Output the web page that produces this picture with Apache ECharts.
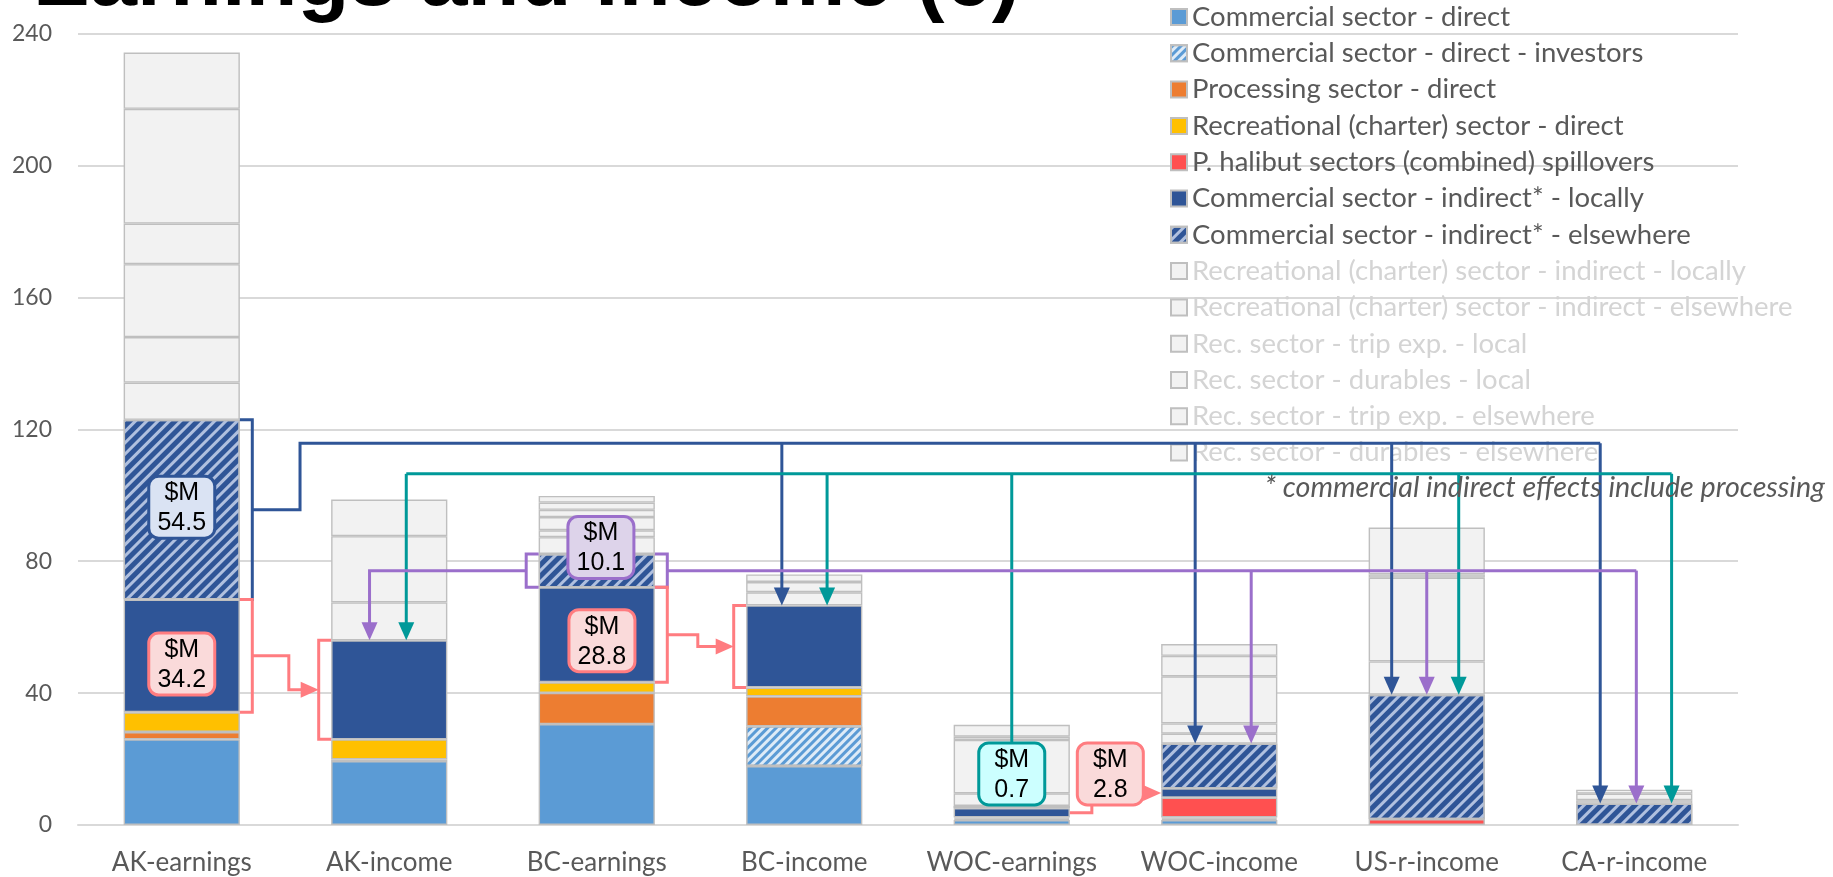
<!DOCTYPE html>
<html>
<head>
<meta charset="utf-8">
<script src="https://cdn.jsdelivr.net/npm/echarts@6/dist/echarts.min.js"></script>
<style>
  html, body { margin: 0; padding: 0; background: #ffffff; }
  #chart { width: 1833px; height: 877px; }
</style>
</head>
<body>
<div id="chart"></div>
<script>
// ---- categories and axis ----
const categories = ['AK-earnings', 'AK-income', 'BC-earnings', 'BC-income',
                    'WOC-earnings', 'WOC-income', 'US-r-income', 'CA-r-income'];
const yMin = 0, yMax = 240, yStep = 40;

// ---- stacked components ($M), bottom to top ----
const comDirect    = [26.0, 19.4, 30.6, 17.9, 1.5, 1.5, 0, 0];
const comInvestors = [0, 0, 0, 12.0, 0, 0, 0, 0];
const processing   = [2.2, 0.5, 9.5, 9.1, 0.4, 0.4, 0, 0];
const recDirect    = [6.0, 6.1, 3.2, 2.7, 0.4, 0.4, 0, 0];
const spillovers   = [0, 0, 0, 0, 0, 6.0, 1.8, 0];
const comIndLocal  = [34.2, 30.0, 28.8, 24.9, 2.8, 2.8, 0, 0];
const comIndElse   = [54.5, 0, 10.1, 0, 0.7, 13.6, 37.7, 6.5];
const recIndLocal  = [11.3, 11.5, 5.1, 4.0, 3.8, 3.0, 10.1, 1.0];
const recIndElse   = [13.8, 0, 2.1, 3.1, 16.2, 3.1, 25.4, 2.0];
const tripLocal    = [22.1, 20.1, 4.0, 2.3, 1.0, 14.3, 1.0, 1.2];
const durLocal     = [12.3, 0, 2.2, 0, 3.6, 6.2, 14.2, 0];
const tripElse     = [34.8, 11.1, 2.2, 0, 0, 3.6, 0, 0];
const durElse      = [17.1, 0, 2.0, 0, 0, 0, 0, 0];

const seriesNames = [
  'Commercial sector - direct',
  'Commercial sector - direct - investors',
  'Processing sector - direct',
  'Recreational (charter) sector - direct',
  'P. halibut sectors (combined) spillovers',
  'Commercial sector - indirect* - locally',
  'Commercial sector - indirect* - elsewhere',
  'Recreational (charter) sector - indirect - locally',
  'Recreational (charter) sector - indirect - elsewhere',
  'Rec. sector - trip exp. - local',
  'Rec. sector - durables - local',
  'Rec. sector - trip exp. - elsewhere',
  'Rec. sector - durables - elsewhere'
];
const seriesValues = [comDirect, comInvestors, processing, recDirect, spillovers,
  comIndLocal, comIndElse, recIndLocal, recIndElse, tripLocal, durLocal, tripElse, durElse];

// ---- styling ----
const EDGE = '#bfbfbf';
const GREY_FILL = '#f2f2f2';
const seriesStyles = [
  { color: '#5b9bd5' },
  { color: '#deebf7', decal: { symbol: 'rect', symbolSize: 1, dashArrayX: [1, 0], dashArrayY: [3, 3], rotation: -Math.PI / 4, color: '#5b9bd5' } },
  { color: '#ed7d31' },
  { color: '#ffc000' },
  { color: '#ff5050' },
  { color: '#2f5597' },
  { color: '#2f5597', decal: { symbol: 'rect', symbolSize: 1, dashArrayX: [1, 0], dashArrayY: [2.5, 4.5], rotation: -Math.PI / 4, color: '#b0c0df' } }
];
for (let i = 7; i < seriesNames.length; i++) seriesStyles.push({ color: GREY_FILL });

// ---- stacking helpers (read from the data arrays) ----
function stackTop(c, k) { let s = 0; for (let j = 0; j <= k; j++) s += seriesValues[j][c]; return s; }
function stackBase(c, k) { return k === 0 ? 0 : stackTop(c, k - 1); }
function stackMid(c, k) { return (stackBase(c, k) + stackTop(c, k)) / 2; }
function segTop(c) { return stackTop(c, 6); }   // top of the coloured part

const LOCAL = 5, ELSE = 6;
const HALF = 0.28;   // half bar width, as a share of the category band
const BR = 0.34;     // bracket offset from category centre

// ---- flow connectors: points are [category, band offset, value] ----
const BLUE = '#2f5597', PURPLE = '#9b6fcb', TEAL = '#009999', PINK = '#ff7c80';
const laneBlue = 115.8, laneTeal = 106.5;
const lanePurple = stackMid(2, ELSE);

const annotations = [];
function bracket(c, k, side, color) {
  annotations.push({ type: 'line', color, pts: [
    [c, side * HALF, stackTop(c, k)], [c, side * BR, stackTop(c, k)],
    [c, side * BR, stackBase(c, k)], [c, side * HALF, stackBase(c, k)]] });
}
function line(color, pts, arrow) { annotations.push({ type: 'line', color, pts, arrow: !!arrow }); }
function box(c, off, v, value, fill, stroke) {
  annotations.push({ type: 'box', c, off, v, text: '$M\n' + value.toFixed(1), fill, stroke });
}

// Alaska commercial indirect elsewhere -> BC, WOC, US, CA
bracket(0, ELSE, 1, BLUE);
line(BLUE, [[0, BR, stackMid(0, ELSE)], [0, 0.57, stackMid(0, ELSE)], [0, 0.57, laneBlue], [7, -0.164, laneBlue]]);
[[3, -0.108], [5, -0.116], [6, -0.169], [7, -0.164]].forEach(([c, o]) =>
  line(BLUE, [[c, o, laneBlue], [c, o, segTop(c)]], true));

// WOC commercial indirect elsewhere -> AK, BC, US, CA
line(TEAL, [[4, 0, 15.5], [4, 0, laneTeal]]);
line(TEAL, [[1, 0.082, laneTeal], [7, 0.18, laneTeal]]);
[[1, 0.082], [3, 0.11], [6, 0.154], [7, 0.18]].forEach(([c, o]) =>
  line(TEAL, [[c, o, laneTeal], [c, o, segTop(c)]], true));

// BC commercial indirect elsewhere -> AK, WOC, US, CA
bracket(2, ELSE, -1, PURPLE);
bracket(2, ELSE, 1, PURPLE);
line(PURPLE, [[2, -BR, lanePurple], [1, -0.095, lanePurple], [1, -0.095, segTop(1)]], true);
line(PURPLE, [[2, BR, lanePurple], [7, 0.01, lanePurple]]);
[[5, 0.154], [6, 0.0], [7, 0.01]].forEach(([c, o]) =>
  line(PURPLE, [[c, o, lanePurple], [c, o, segTop(c)]], true));

// local indirect earnings -> local income
bracket(0, LOCAL, 1, PINK);
bracket(1, LOCAL, -1, PINK);
line(PINK, [[0, BR, stackMid(0, LOCAL)], [0, 0.516, stackMid(0, LOCAL)], [0, 0.516, stackMid(1, LOCAL)], [1, -BR, stackMid(1, LOCAL)]], true);
bracket(2, LOCAL, 1, PINK);
bracket(3, LOCAL, -1, PINK);
line(PINK, [[2, BR, stackMid(2, LOCAL)], [2, 0.487, stackMid(2, LOCAL)], [2, 0.487, stackMid(3, LOCAL)], [3, -BR, stackMid(3, LOCAL)]], true);
line(PINK, [[4, HALF, stackMid(4, LOCAL)], [4, 0.386, stackMid(4, LOCAL)], [4, 0.386, 15.5]]);
line(PINK, [[4, 0.55, stackMid(5, LOCAL)], [5, -HALF, stackMid(5, LOCAL)]], true);

// value call-outs
box(0, 0, 96.4, comIndElse[0], '#dae3f3', BLUE);
box(0, 0, 48.8, comIndLocal[0], '#fadada', PINK);
box(2, 0.02, 84.2, comIndElse[2], '#ddd3ea', PURPLE);
box(2, 0.025, 55.9, comIndLocal[2], '#fadada', PINK);
box(4, 0, 15.5, comIndElse[4], '#ccffff', TEAL);
box(4, 0.475, 15.5, comIndLocal[4], '#fadada', PINK);

function renderAnnotation(params, api) {
  const a = annotations[params.dataIndex];
  const bw = api.size([1, 0])[0];
  const P = (p) => { const q = api.coord([p[0], p[2]]); return [q[0] + p[1] * bw, q[1]]; };
  if (a.type === 'line') {
    const pts = a.pts.map(P);
    const children = [];
    if (a.arrow) {
      const tip = pts[pts.length - 1], prev = pts[pts.length - 2];
      const dx = tip[0] - prev[0], dy = tip[1] - prev[1];
      const len = Math.hypot(dx, dy) || 1, ux = dx / len, uy = dy / len;
      const L = 18, W = 8;
      const base = [tip[0] - ux * L, tip[1] - uy * L];
      pts[pts.length - 1] = [tip[0] - ux * (L - 2), tip[1] - uy * (L - 2)];
      children.push({ type: 'polygon', shape: { points: [tip,
        [base[0] - uy * W, base[1] + ux * W], [base[0] + uy * W, base[1] - ux * W]] },
        style: { fill: a.color } });
    }
    children.unshift({ type: 'polyline', shape: { points: pts },
      style: { stroke: a.color, lineWidth: 3, fill: null, lineJoin: 'miter' } });
    return { type: 'group', children };
  }
  const c = P([a.c, a.off, a.v]);
  const w = 66, h = 62;
  return { type: 'group', children: [
    { type: 'rect', shape: { x: c[0] - w / 2, y: c[1] - h / 2, width: w, height: h, r: 10 },
      style: { fill: a.fill, stroke: a.stroke, lineWidth: 3 } },
    { type: 'text', style: { text: a.text, x: c[0], y: c[1] + 1, align: 'center', verticalAlign: 'middle',
      fontFamily: '"Liberation Sans", Arial, sans-serif', fontSize: 25, lineHeight: 30, fill: '#000000' } }
  ] };
}

const chart = echarts.init(document.getElementById('chart'), null, { renderer: 'canvas' });

// empty segments are left out so they draw no edge
const barSeries = seriesNames.map((name, i) => ({
  name, type: 'bar', stack: 'total', barWidth: '56%',
  data: seriesValues[i].map(v => (v === 0 ? '-' : v)),
  itemStyle: Object.assign({ borderColor: EDGE, borderWidth: 1.4 }, seriesStyles[i]),
  emphasis: { disabled: true },
  animation: false
}));

const legendData = seriesNames.map((name, i) => ({
  name, textStyle: { color: i < 7 ? '#595959' : '#d4d4d4' }
}));

chart.setOption({
  animation: false,
  grid: { left: 78, right: 95, top: 33.7, bottom: 52, outerBoundsMode: 'none' },
  legend: {
    data: legendData, orient: 'vertical', left: 1170, top: 2, padding: 0,
    itemWidth: 16, itemHeight: 16, itemGap: 6.3, icon: 'rect', selectedMode: false,
    textStyle: { fontFamily: 'Lato', fontSize: 27.5, lineHeight: 30, color: '#595959' }
  },
  xAxis: {
    type: 'category', data: categories,
    axisLine: { lineStyle: { color: '#d9d9d9', width: 2 } },
    axisTick: { show: false },
    axisLabel: { color: '#595959', fontFamily: 'Lato', fontSize: 26, margin: 25, interval: 0 }
  },
  yAxis: {
    type: 'value', min: yMin, max: yMax, interval: yStep,
    axisLine: { show: false }, axisTick: { show: false },
    splitLine: { lineStyle: { color: '#d9d9d9', width: 2 } },
    axisLabel: { color: '#595959', fontFamily: 'Lato', fontSize: 23, margin: 26 }
  },
  graphic: [
    { type: 'text', left: 33, top: -61, z: 100,
      style: { text: 'Earnings and income (6)', fontFamily: '"Liberation Sans", Arial, sans-serif',
        fontWeight: 'bold', fontSize: 85, fill: '#000000' } },
    { type: 'text', right: 8, top: 473, z: 100,
      style: { text: '* commercial indirect effects include processing', fontFamily: 'Lato',
        fontStyle: 'italic', fontSize: 28.7, fill: '#595959' } }
  ],
  series: barSeries.concat([{
    type: 'custom', coordinateSystem: 'cartesian2d', z: 10, silent: true, clip: false,
    renderItem: renderAnnotation,
    data: annotations.map(() => [0, 0]),
    animation: false
  }])
});
</script>
</body>
</html>
